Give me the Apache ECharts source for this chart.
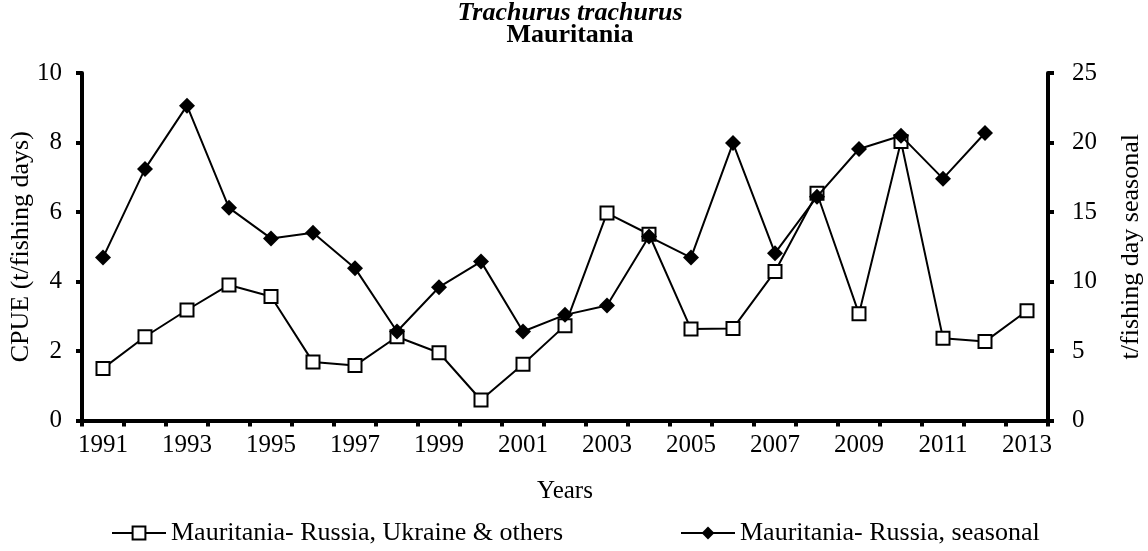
<!DOCTYPE html>
<html>
<head>
<meta charset="utf-8">
<script src="https://cdn.jsdelivr.net/npm/echarts@6/dist/echarts.min.js"></script>
<style>
  html, body { margin: 0; padding: 0; background: #fff; }
  #chart { width: 1148px; height: 551px; }
</style>
</head>
<body>
<div id="chart"></div>
<script>
// Horse mackerel (Trachurus trachurus) CPUE off Mauritania, 1991-2013
const years = ['1991','1992','1993','1994','1995','1996','1997','1998','1999','2000','2001',
               '2002','2003','2004','2005','2006','2007','2008','2009','2010','2011','2012','2013'];

// CPUE, t per fishing day (left axis)
const cpueOthers = [1.50, 2.41, 3.18, 3.90, 3.57, 1.68, 1.58, 2.41, 1.95, 0.59, 1.62,
                    2.73, 5.97, 5.36, 2.63, 2.65, 4.29, 6.54, 3.07, 8.03, 2.37, 2.27, 3.16];

// Seasonal CPUE, t per fishing day (right axis), no value for 2013
const cpueSeasonal = [11.72, 18.1, 22.65, 15.3, 13.1, 13.5, 10.96, 6.4, 9.59, 11.43, 6.4,
                      7.6, 8.27, 13.23, 11.72, 19.96, 12.04, 16.1, 19.53, 20.48, 17.4, 20.68];

const seriesNames = ['Mauritania- Russia, Ukraine & others', 'Mauritania- Russia, seasonal'];

const FONT = '"Liberation Serif", "DejaVu Serif", serif';
const TICK_FS = 25;
const NAME_FS = 26;
const LEGEND_FS = 26;

const chart = echarts.init(document.getElementById('chart'), null, { renderer: 'canvas' });

const axisLineStyle = { show: true, lineStyle: { color: '#000', width: 4 } };
const tickStyle = { show: true, length: 6, lineStyle: { color: '#000', width: 4 } };

chart.setOption({
  animation: false,
  backgroundColor: '#fff',
  title: [
    {
      text: 'Trachurus trachurus',
      left: 565, top: -5, textAlign: 'center',
      textStyle: { fontFamily: FONT, fontSize: 26, fontWeight: 'bold', fontStyle: 'italic', color: '#000' }
    },
    {
      text: 'Mauritania',
      left: 565, top: 17, textAlign: 'center',
      textStyle: { fontFamily: FONT, fontSize: 26, fontWeight: 'bold', color: '#000' }
    }
  ],
  grid: { left: 82, right: 100, top: 73, bottom: 130.5, containLabel: false, outerBoundsMode: 'none' },
  legend: [
    {
      data: [seriesNames[0]],
      left: 106, bottom: 0,
      itemWidth: 54, itemHeight: 16,
      textStyle: { fontFamily: FONT, fontSize: LEGEND_FS, color: '#000' }
    },
    {
      data: [seriesNames[1]],
      left: 675, bottom: 0,
      itemWidth: 54, itemHeight: 16,
      textStyle: { fontFamily: FONT, fontSize: LEGEND_FS, color: '#000' }
    }
  ],
  xAxis: {
    type: 'category',
    data: years,
    boundaryGap: true,
    name: 'Years',
    nameLocation: 'middle',
    nameGap: 58,
    nameTextStyle: { fontFamily: FONT, fontSize: 25, color: '#000' },
    axisLine: axisLineStyle,
    axisTick: Object.assign({ interval: 0, alignWithLabel: false }, tickStyle),
    axisLabel: { interval: 1, margin: 12, fontFamily: FONT, fontSize: TICK_FS, color: '#000' },
    splitLine: { show: false }
  },
  yAxis: [
    {
      type: 'value',
      min: 0, max: 10, interval: 2,
      name: 'CPUE (t/fishing days)',
      nameLocation: 'middle',
      nameGap: 48,
      nameMoveOverlap: false,
      nameRotate: 90,
      nameTextStyle: { fontFamily: FONT, fontSize: NAME_FS, color: '#000' },
      axisLine: axisLineStyle,
      axisTick: tickStyle,
      axisLabel: { margin: 20, fontFamily: FONT, fontSize: TICK_FS, color: '#000' },
      splitLine: { show: false }
    },
    {
      type: 'value',
      min: 0, max: 25, interval: 5,
      position: 'right',
      name: 't/fishing day seasonal',
      nameLocation: 'middle',
      nameGap: 70,
      nameRotate: 90,
      nameTextStyle: { fontFamily: FONT, fontSize: NAME_FS, color: '#000' },
      axisLine: axisLineStyle,
      axisTick: tickStyle,
      axisLabel: { margin: 24, fontFamily: FONT, fontSize: TICK_FS, color: '#000' },
      splitLine: { show: false }
    }
  ],
  series: [
    {
      name: seriesNames[0],
      type: 'line',
      yAxisIndex: 0,
      data: cpueOthers,
      symbol: 'rect',
      symbolSize: 13,
      showAllSymbol: true,
      lineStyle: { color: '#000', width: 2 },
      itemStyle: { color: '#fff', borderColor: '#000', borderWidth: 2 },
      z: 2
    },
    {
      name: seriesNames[1],
      type: 'line',
      yAxisIndex: 1,
      data: cpueSeasonal,
      symbol: 'diamond',
      symbolSize: 16,
      showAllSymbol: true,
      lineStyle: { color: '#000', width: 2 },
      itemStyle: { color: '#000', borderColor: '#000', borderWidth: 0 },
      z: 3
    }
  ]
});
</script>
</body>
</html>
